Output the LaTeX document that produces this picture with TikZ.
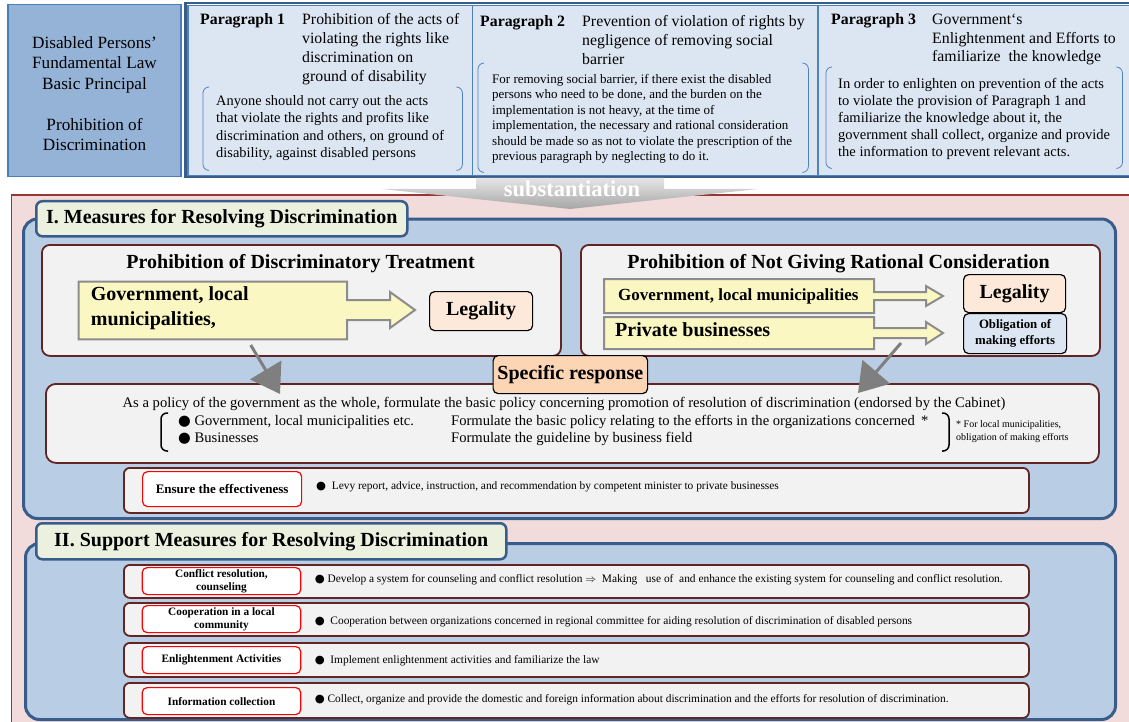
\documentclass[tikz,border=0pt]{standalone}
\usepackage{fontspec}
\setmainfont{Liberation Serif}
\newfontfamily\symfont{DejaVu Sans}
\usetikzlibrary{positioning,arrows.meta}
\definecolor{lawblue}{HTML}{95B3D7}
\definecolor{lawline}{HTML}{4A7EBB}
\definecolor{parafill}{HTML}{DCE6F2}
\definecolor{paraline}{HTML}{4F81BD}
\definecolor{frameblue}{HTML}{385D8A}
\definecolor{pinkbg}{HTML}{F2DCDB}
\definecolor{pinkline}{HTML}{953735}
\definecolor{secblue}{HTML}{B9CDE5}
\definecolor{tabgreen}{HTML}{EBF1DE}
\definecolor{subgray}{HTML}{F2F2F2}
\definecolor{subline}{HTML}{632523}
\definecolor{yfill}{HTML}{FAF7C3}
\definecolor{legalfill}{HTML}{FDE9D9}
\definecolor{specfill}{HTML}{FCD5B5}
\definecolor{arrgray}{HTML}{7F7F7F}
\newcommand{\fs}[2]{\fontsize{#1pt}{#2pt}\selectfont}
\newcommand{\blt}{{\symfont ●}}
\newcommand{\brackpair}[1]{%
  \draw[brackline] ([xshift=6pt]#1.north west) -| (#1.south west) -- ++(6pt,0);
  \draw[brackline] ([xshift=-6pt]#1.north east) -| (#1.south east) -- ++(-6pt,0);}
\tikzset{
  wh/.style 2 args={minimum width=#1pt,minimum height=#2pt,anchor=north west,inner sep=0pt},
  parabox/.style={draw=paraline,fill=parafill,line width=1.5pt},
  brackline/.style={draw=paraline,line width=0.8pt,rounded corners=6pt},
  txt/.style={inner sep=0pt,align=left,anchor=north west},
  oneline/.style={inner sep=0pt,anchor=base west},
  sec/.style={draw=frameblue,fill=secblue,line width=3pt,rounded corners=14pt},
  tabbox/.style={draw=frameblue,fill=tabgreen,line width=2.5pt,rounded corners=6pt,font=\bfseries\fs{20}{24}},
  subbox/.style={draw=subline,fill=subgray,line width=1.8pt,rounded corners=8pt},
  yarrow/.style={draw=gray!90,fill=yfill,line width=2pt},
  legalbox/.style={draw=black,fill=legalfill,line width=1.2pt,rounded corners=5pt,font=\bfseries\fs{20}{24}},
  rowbox/.style={draw=subline,fill=subgray,line width=1.8pt,rounded corners=6pt},
  redlbl/.style={draw=red,fill=white,line width=1.2pt,rounded corners=5pt,align=center,font=\bfseries\fs{11.3}{13}},
  brace/.style={draw=black,line width=1.5pt,rounded corners=6pt},
  grayarr/.style={draw=arrgray,line width=3pt,-{Triangle[width=36pt,length=28pt]}}
}
\begin{document}
\begin{tikzpicture}[x=1pt,y=-1pt]
\useasboundingbox (0,0) rectangle (1129,722);
% basic law
\node[draw=lawline,fill=lawblue,line width=1.5pt,wh={173}{172}] (law) at (7,4) {};
\node[align=center,inner sep=0pt,font=\fs{17.2}{20.3}] (lawtxt) at (94.5,93.5) {Disabled Persons’\\Fundamental Law\\Basic Principal\\[20.7pt]Prohibition of\\Discrimination};
\node[parabox,wh={284.5}{170}] (p1) at (187,5) {};
\node[parabox,wh={345.5}{170}] (p2) at (471.5,5) {};
\node[parabox,wh={320}{170}] (p3) at (817,5) {};
\draw[frameblue,line width=2.5pt] (185.5,3) rectangle (1135,177);
\node[wh={259}{83}] (b1) at (203,87) {}; \brackpair{b1}
\node[wh={330}{109}] (b2) at (478,63) {}; \brackpair{b2}
\node[wh={296}{101}] (b3) at (826,67) {}; \brackpair{b3}
\node[oneline,font=\bfseries\fs{15.8}{19}] (h1) at (200,24.3) {Paragraph 1};
\node[txt,font=\fs{15.8}{18.9}] (t1) at (302,13.5) {Prohibition of the acts of\\violating the rights like\\discrimination on\\ground of disability};
\node[txt,font=\fs{14.4}{17.4}] (d1) at (216,95.2) {Anyone should not carry out the acts\\that violate the rights and profits like\\discrimination and others, on ground of\\disability, against disabled persons};
\node[oneline,font=\bfseries\fs{15.8}{19}] (h2) at (480,26.3) {Paragraph 2};
\node[txt,font=\fs{15.8}{18.7}] (t2) at (582,15.5) {Prevention of violation of rights by\\negligence of removing social\\barrier};
\node[txt,font=\fs{13}{15.45}] (d2) at (492,74.1) {For removing social barrier, if there exist the disabled\\persons who need to be done, and the burden on the\\implementation is not heavy, at the time of\\implementation, the necessary and rational consideration\\should be made so as not to violate the prescription of the\\previous paragraph by neglecting to do it.};
\node[oneline,font=\bfseries\fs{15.8}{19}] (h3) at (831,24.3) {Paragraph 3};
\node[txt,font=\fs{15.8}{18.8}] (t3) at (932,13.5) {Government‘s\\Enlightenment and Efforts to\\familiarize\ \ the knowledge};
\node[txt,font=\fs{14.5}{16.9}] (d3) at (838,78.4) {In order to enlighten on prevention of the acts\\to violate the provision of Paragraph 1 and\\familiarize the knowledge about it, the\\government shall collect, organize and provide\\the information to prevent relevant acts.};
% substantiation
\draw[fill=pinkbg,draw=pinkline,line width=1.5pt] (11.5,195) rectangle (1140,735);
\shade[top color=gray!20,bottom color=gray!70] (476,178) -- (664,178) -- (664,189) -- (758,189) -- (570,209) -- (382,189) -- (476,189) -- cycle;
\node[font=\bfseries\fs{22.5}{26},text=white,inner sep=0pt] (subst) at (572,189) {substantiation};
% I. measures
\node[sec,wh={1092}{299.5}] (sec1) at (22,217.5) {};
\node[tabbox,wh={371}{35}] (tab1) at (35,200) {I. Measures for Resolving Discrimination};
\node[subbox,wh={519}{111}] (treat) at (41,244) {};
\node[font=\bfseries\fs{20}{24},inner sep=0pt] (treatT) at (300.6,264) {Prohibition of Discriminatory Treatment};
\draw[yarrow] (78.5,281.7) -- (347,281.7) -- (347,300) -- (390,300) -- (390,292) -- (415,310) -- (390,328) -- (390,320) -- (347,320) -- (347,339.3) -- (78.5,339.3) -- cycle;
\node[txt,font=\bfseries\fs{20}{25.3}] (gov1) at (90.7,286.6) {Government, local\\municipalities,};
\node[legalbox,wh={103}{39}] (leg1) at (429,291) {Legality};
\node[subbox,wh={519}{111}] (ratio) at (580,244) {};
\node[font=\bfseries\fs{20}{24},inner sep=0pt] (ratioT) at (838.5,264) {Prohibition of Not Giving Rational Consideration};
\draw[yarrow] (604,279) -- (874,279) -- (874,292) -- (926,292) -- (926,286) -- (943,296) -- (926,306) -- (926,300) -- (874,300) -- (874,313) -- (604,313) -- cycle;
\draw[yarrow] (604,317) -- (874,317) -- (874,328) -- (926,328) -- (926,322) -- (943,333) -- (926,344) -- (926,338) -- (874,338) -- (874,349) -- (604,349) -- cycle;
\node[oneline,font=\bfseries\fs{17}{20}] (gov2) at (618,300.9) {Government, local municipalities};
\node[oneline,font=\bfseries\fs{20}{24}] (priv) at (615,336.6) {Private businesses};
\node[legalbox,wh={102}{38}] (leg2) at (963,274) {Legality};
\node[legalbox,fill=parafill,wh={103}{40},align=center,font=\bfseries\fs{12.8}{16}] (oblig) at (963,313) {Obligation of\\making efforts};
\node[subbox,rounded corners=10pt,wh={1053}{79}] (policy) at (45,383) {};
\node[legalbox,fill=specfill,wh={154.5}{38}] (spec) at (492.5,355) {Specific response};
\node[oneline,font=\fs{14.6}{18}] (pol0) at (122.5,407.3) {As a policy of the government as the whole, formulate the basic policy concerning promotion of resolution of discrimination (endorsed by the Cabinet)};
\draw[brace] (168,413) -| (161,451) -- (168,451);
\node[oneline,font=\fs{14.6}{18}] (pol1) at (178,425.3) {\blt\ Government, local municipalities etc.};
\node[oneline,font=\fs{14.6}{18}] (pol2) at (178,442.3) {\blt\ Businesses};
\node[oneline,font=\fs{14.6}{18}] (pol3) at (451,425.3) {Formulate the basic policy relating to the efforts in the organizations concerned \,*};
\node[oneline,font=\fs{14.6}{18}] (pol4) at (451,442.3) {Formulate the guideline by business field};
\draw[brace] (942,413) -| (949,451) -- (942,451);
\node[txt,font=\fs{10}{13}] (note) at (956,420.5) {* For local municipalities,\\obligation of making efforts};
\coordinate (ga1) at (250.7,345); \coordinate (gb1) at (280,394);
\coordinate (ga2) at (901,343); \coordinate (gb2) at (858,393);
\draw[grayarr] (ga1) -- (gb1);
\draw[grayarr] (ga2) -- (gb2);
\node[rowbox,wh={905}{45}] (ensure) at (123,467) {};
\node[redlbl,font=\bfseries\fs{13}{15},wh={159}{35}] (ensureL) at (142,471) {Ensure the effectiveness};
\node[oneline,font=\fs{11.4}{14}] (ensureT) at (316,489.6) {\blt\ \ Levy report, advice, instruction, and recommendation by competent minister to private businesses};
% II. support
\node[sec,wh={1090}{176}] (sec2) at (24,542) {};
\node[tabbox,wh={470}{36}] (tab2) at (35,522) {II. Support Measures for Resolving Discrimination};
\foreach \n/\y/\h/\d/\lab in {1/564/33/3/{Conflict resolution,\\counseling},2/602/33/3/{Cooperation in a local\\community},3/642/34/4/{Enlightenment Activities},4/682/35/5/{Information collection}}{
  \node[rowbox,wh={905}{\h}] (row\n) at (123,\y) {};
  \node[redlbl,wh={158.5}{27}] (lab\n) at (141.6,\y+\d) {\lab};
}
\node[oneline,font=\fs{11.4}{13}] (rt1) at (314.6,582.5) {\blt\ Develop a system for counseling and conflict resolution $\Rightarrow$\ \ Making\ \ \ use of\ \ and enhance the existing system for counseling and conflict resolution.};
\node[oneline,font=\fs{11.4}{13}] (rt2) at (314.6,624.5) {\blt\ \ Cooperation between organizations concerned in regional committee for aiding resolution of discrimination of disabled persons};
\node[oneline,font=\fs{11.4}{13}] (rt3) at (314.6,663.5) {\blt\ \ Implement enlightenment activities and familiarize the law};
\node[oneline,font=\fs{11.4}{13}] (rt4) at (314.6,702.5) {\blt\ Collect, organize and provide the domestic and foreign information about discrimination and the efforts for resolution of discrimination.};
\end{tikzpicture}
\end{document}
